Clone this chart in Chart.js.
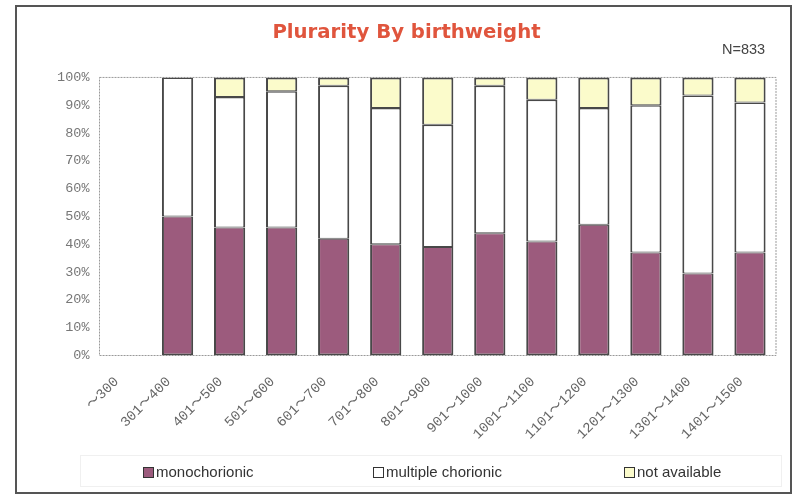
<!DOCTYPE html>
<html>
<head>
<meta charset="utf-8">
<script src="https://cdn.jsdelivr.net/npm/chart.js@4/dist/chart.umd.min.js"></script>
<style>
    body { margin: 0; background: #fff; }
    #wrap { position: relative; width: 795px; height: 498px; }
    #chart { position: absolute; left: 0; top: 0; }
    .frame { position: absolute; left: 15px; top: 5px; width: 777px; height: 489px;
             border: 2px solid #555; box-sizing: border-box; pointer-events: none; }
    .n-label { position: absolute; left: 722px; top: 41px; font: 14.5px "Liberation Sans", Arial, sans-serif; color: #444; }
    .legend-box { position: absolute; left: 80px; top: 455px; width: 702px; height: 32px;
                  border: 1px solid #f0f0f0; box-sizing: border-box; }
    .legend-item { position: absolute; top: 464px; font: 15px "Liberation Sans", Arial, sans-serif; color: #333;
                   white-space: nowrap; line-height: 16px; }
    .legend-item i { display: inline-block; width: 9px; height: 9px; border: 1px solid #333;
                     margin-right: 2px; vertical-align: -1px; }
</style>
</head>
<body>
<div id="wrap">
    <canvas id="chart" width="795" height="498"></canvas>
    <div class="frame"></div>
    <div class="n-label">N=833</div>
    <div class="legend-box"></div>
    <div id="legend"></div>
</div>
<script>
// ── 数据 ──────────────────────
const categories = ['〜300', '301〜400', '401〜500', '501〜600', '601〜700', '701〜800', '801〜900',
    '901〜1000', '1001〜1100', '1101〜1200', '1201〜1300', '1301〜1400', '1401〜1500'];
const monochorionic = [null, 50, 46, 46, 42, 40, 39, 44, 41, 47, 37, 29.5, 37];
const multipleChorionic = [null, 50, 47, 49, 55, 49, 44, 53, 51, 42, 53, 64, 54];
const notAvailable = [null, 0, 7, 5, 3, 11, 17, 3, 8, 11, 10, 6.5, 9];
const yTicks = [0, 10, 20, 30, 40, 50, 60, 70, 80, 90, 100];

const seriesNames = ['monochorionic', 'multiple chorionic', 'not available'];
const seriesColors = ['#9c5b7d', '#ffffff', '#fbfbcb'];
const legendLeft = [143, 373, 624];

// 绘图区虚线边框
const plotBorder = {
    id: 'plotBorder',
    beforeDatasetsDraw(chart) {
        const a = chart.chartArea, ctx = chart.ctx;
        ctx.save();
        ctx.strokeStyle = '#999';
        ctx.lineWidth = 1;
        ctx.setLineDash([2, 1]);
        ctx.strokeRect(a.left, a.top, a.right - a.left, a.bottom - a.top);
        ctx.restore();
    }
};

// 段与段相接处边框各画一半，避免变粗
const makeSet = (i, data, top, bottom) => ({
    label: seriesNames[i],
    data,
    backgroundColor: seriesColors[i],
    borderColor: '#484848',
    borderWidth: { left: 2, right: 2, top, bottom },
    borderSkipped: false,
    categoryPercentage: 0.6,
    barPercentage: 1,
});

new Chart(document.getElementById('chart').getContext('2d'), {
    type: 'bar',
    data: {
        labels: categories,
        datasets: [
            makeSet(0, monochorionic, 1, 2),
            makeSet(1, multipleChorionic, 1.5, 1),
            makeSet(2, notAvailable, 2, 1),
        ]
    },
    options: {
        responsive: false,
        animation: false,
        devicePixelRatio: 1,
        layout: { padding: { left: 37, right: 19, top: 21, bottom: 45 } },
        plugins: {
            legend: { display: false },
            tooltip: { enabled: false },
            title: {
                display: true,
                text: 'Plurarity By birthweight',
                color: '#e0553d',
                font: { family: '"DejaVu Sans", Verdana, sans-serif', size: 19.7, weight: 'bold', lineHeight: 1.2 },
                padding: { top: 0, bottom: 32.8 },
            },
        },
        scales: {
            x: {
                stacked: true,
                grid: { display: false },
                border: { display: false },
                ticks: {
                    color: '#666',
                    font: { family: '"Liberation Mono", "Noto Sans CJK JP", monospace', size: 14 },
                    minRotation: 45,
                    maxRotation: 45,
                    padding: 10,
                    labelOffset: -9,
                    autoSkip: false,
                },
                afterFit: s => { s.height = 97.5; },
            },
            y: {
                stacked: true,
                min: 0,
                max: 100,
                grid: { display: false },
                border: { display: false },
                afterBuildTicks: s => { s.ticks = yTicks.map(v => ({ value: v })); },
                ticks: {
                    color: '#777',
                    font: { family: '"Liberation Mono", monospace', size: 13.5 },
                    padding: 2,
                    callback: v => v + '%',
                },
                afterFit: s => { s.width = 62.5; },
            }
        }
    },
    plugins: [plotBorder]
});

// 图例（HTML）
document.getElementById('legend').innerHTML = seriesNames.map((name, i) =>
    `<div class="legend-item" style="left:${legendLeft[i]}px"><i style="background:${seriesColors[i]}"></i>${name}</div>`
).join('');
</script>
</body>
</html>
